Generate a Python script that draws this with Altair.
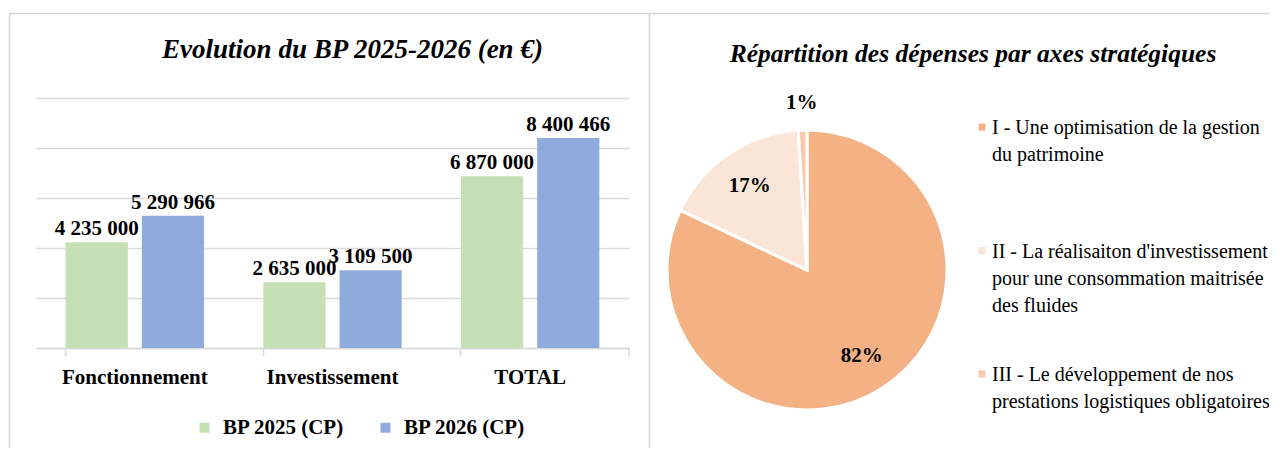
import altair as alt
import pandas as pd

FONT = "Liberation Serif"

# ---- Left chart data ----
categories = ["Fonctionnement", "Investissement", "TOTAL"]
series = ["BP 2025 (CP)", "BP 2026 (CP)"]
bp2025 = [4235000, 2635000, 6870000]
bp2026 = [5290966, 3109500, 8400466]
bar_colors = ["#C5E0B4", "#8FAADC"]

# ---- Right chart data ----
axes_labels = [
    "I - Une optimisation de la gestion\ndu patrimoine",
    "II - La réalisaiton d'investissement\npour une consommation maitrisée\ndes fluides",
    "III - Le développement de nos\nprestations logistiques obligatoires",
]
axes_pct = [82, 17, 1]
axes_order = [1, 2, 3]
pie_colors = ["#F4B183", "#FBE5D6", "#F8CBAD"]

bar_df = pd.DataFrame({
    "cat": categories * 2,
    "serie": [series[0]] * len(categories) + [series[1]] * len(categories),
    "value": bp2025 + bp2026,
})

x_enc = alt.X(
    "cat:N", sort=categories,
    scale=alt.Scale(paddingInner=0.3, paddingOuter=0.15),
    axis=alt.Axis(title=None, labelAngle=0, labelFont=FONT, labelFontWeight="bold",
                  labelFontSize=21, labelColor="#000000", labelPadding=10,
                  domainColor="#D9D9D9", domainWidth=1.5, tickColor="#D9D9D9",
                  tickSize=8, tickWidth=1.5, bandPosition=0),
)
y_enc = alt.Y(
    "value:Q", scale=alt.Scale(domain=[0, 10000000]),
    axis=alt.Axis(title=None, labels=False, ticks=False, domain=False, tickCount=5,
                  gridColor="#D9D9D9", gridWidth=1.5),
)
xoff = alt.XOffset("serie:N", sort=series, scale=alt.Scale(paddingInner=0.184))

bars = alt.Chart(bar_df).mark_bar().encode(
    x=x_enc, y=y_enc, xOffset=xoff,
    color=alt.Color("serie:N", sort=series,
                    scale=alt.Scale(domain=series, range=bar_colors),
                    legend=alt.Legend(title=None, orient="none", legendX=158, legendY=319,
                                      direction="horizontal", symbolType="square",
                                      symbolSize=100, symbolStrokeWidth=0, symbolOpacity=1,
                                      labelFont=FONT, labelFontWeight="bold", labelFontSize=21,
                                      labelColor="#000000", columnPadding=30, labelOffset=8)),
)
bar_labels = alt.Chart(bar_df).transform_calculate(
    lab="replace(format(datum.value, ','), regexp(',', 'g'), ' ')"
).mark_text(dy=-7, baseline="alphabetic", font=FONT, fontWeight="bold", fontSize=21,
            color="#000000").encode(
    x=x_enc, y=y_enc, xOffset=xoff, text="lab:N",
)
end_tick = alt.Chart(pd.DataFrame({"k": [0]})).mark_rule(color="#D9D9D9", strokeWidth=1.5).encode(
    x=alt.value(593), y=alt.value(250), y2=alt.value(258)
)

bar_chart = alt.layer(bars, bar_labels, end_tick).properties(
    width=593, height=250,
    title=alt.Title("Evolution du BP 2025-2026 (en €)", font=FONT, fontSize=27,
                    fontStyle="italic", fontWeight="bold", color="#000000",
                    anchor="middle", dx=20, offset=34),
)

# ---- Pie ----
pie_df = pd.DataFrame({"axe": axes_labels, "pct": axes_pct, "ordre": axes_order})
pie_base = alt.Chart(pie_df).encode(
    theta=alt.Theta("pct:Q", stack=True),
    order=alt.Order("ordre:Q"),
)
arcs = pie_base.mark_arc(outerRadius=140, stroke="white", strokeWidth=3).encode(
    color=alt.Color("axe:N", sort=axes_labels,
                    scale=alt.Scale(domain=axes_labels, range=pie_colors), legend=None)
)
lab_in = pie_base.transform_calculate(
    t="datum.pct >= 5 ? datum.pct + '%' : ''"
).mark_text(radius=102, font=FONT, fontWeight="bold", fontSize=21, color="#000000").encode(
    text="t:N")
lab_out = pie_base.transform_calculate(
    t="datum.pct < 5 ? datum.pct + '%' : ''"
).mark_text(radius=167, font=FONT, fontWeight="bold", fontSize=21, color="#000000").encode(
    text="t:N")

pie_chart = alt.layer(arcs, lab_in, lab_out).properties(
    width=316, height=344,
    title=alt.Title("Répartition des dépenses par axes stratégiques", font=FONT, fontSize=25.5,
                    fontStyle="italic", fontWeight="bold", color="#000000",
                    anchor="middle", dx=166, offset=25),
)

# ---- Custom legend for pie ----
leg_df = pd.DataFrame({"axe": axes_labels, "ordre": axes_order})
ly = alt.Y("axe:N", sort=axes_labels, scale=alt.Scale(type="point", padding=0.26), axis=None)
leg_sq = alt.Chart(leg_df).mark_square(size=49, opacity=1, yOffset=-3).encode(
    y=ly, x=alt.value(-3),
    color=alt.Color("axe:N", sort=axes_labels,
                    scale=alt.Scale(domain=axes_labels, range=pie_colors), legend=None),
)
leg_txt = alt.Chart(leg_df).mark_text(align="left", baseline="top", dy=-12, lineBreak="\n",
                                      lineHeight=27, font=FONT, fontSize=20,
                                      color="#000000").encode(
    y=ly, x=alt.value(7), text="axe:N",
)

one = pd.DataFrame({"k": [0]})
bcol = "#D4D4D4"
r_top = alt.Chart(one).mark_rule(color=bcol, strokeWidth=1.5).encode(
    x=alt.value(-975.5), x2=alt.value(285), y=alt.value(-84.5))
r_left = alt.Chart(one).mark_rule(color=bcol, strokeWidth=1.5).encode(
    x=alt.value(-975.5), y=alt.value(-84.5), y2=alt.value(350))
r_sep = alt.Chart(one).mark_rule(color=bcol, strokeWidth=1.5).encode(
    x=alt.value(-335.5), y=alt.value(-84.5), y2=alt.value(350))

legend_chart = alt.layer(leg_sq, leg_txt, r_top, r_left, r_sep).properties(width=285, height=311)

chart = alt.hconcat(bar_chart, pie_chart, legend_chart, spacing=20, bounds="flush").properties(
    padding={"left": 0, "top": 4, "right": 0, "bottom": 0},
    background="white",
).configure_view(strokeWidth=0).resolve_scale(color="independent")

chart.save("out.html", embed_options={"renderer": "svg", "actions": False})
